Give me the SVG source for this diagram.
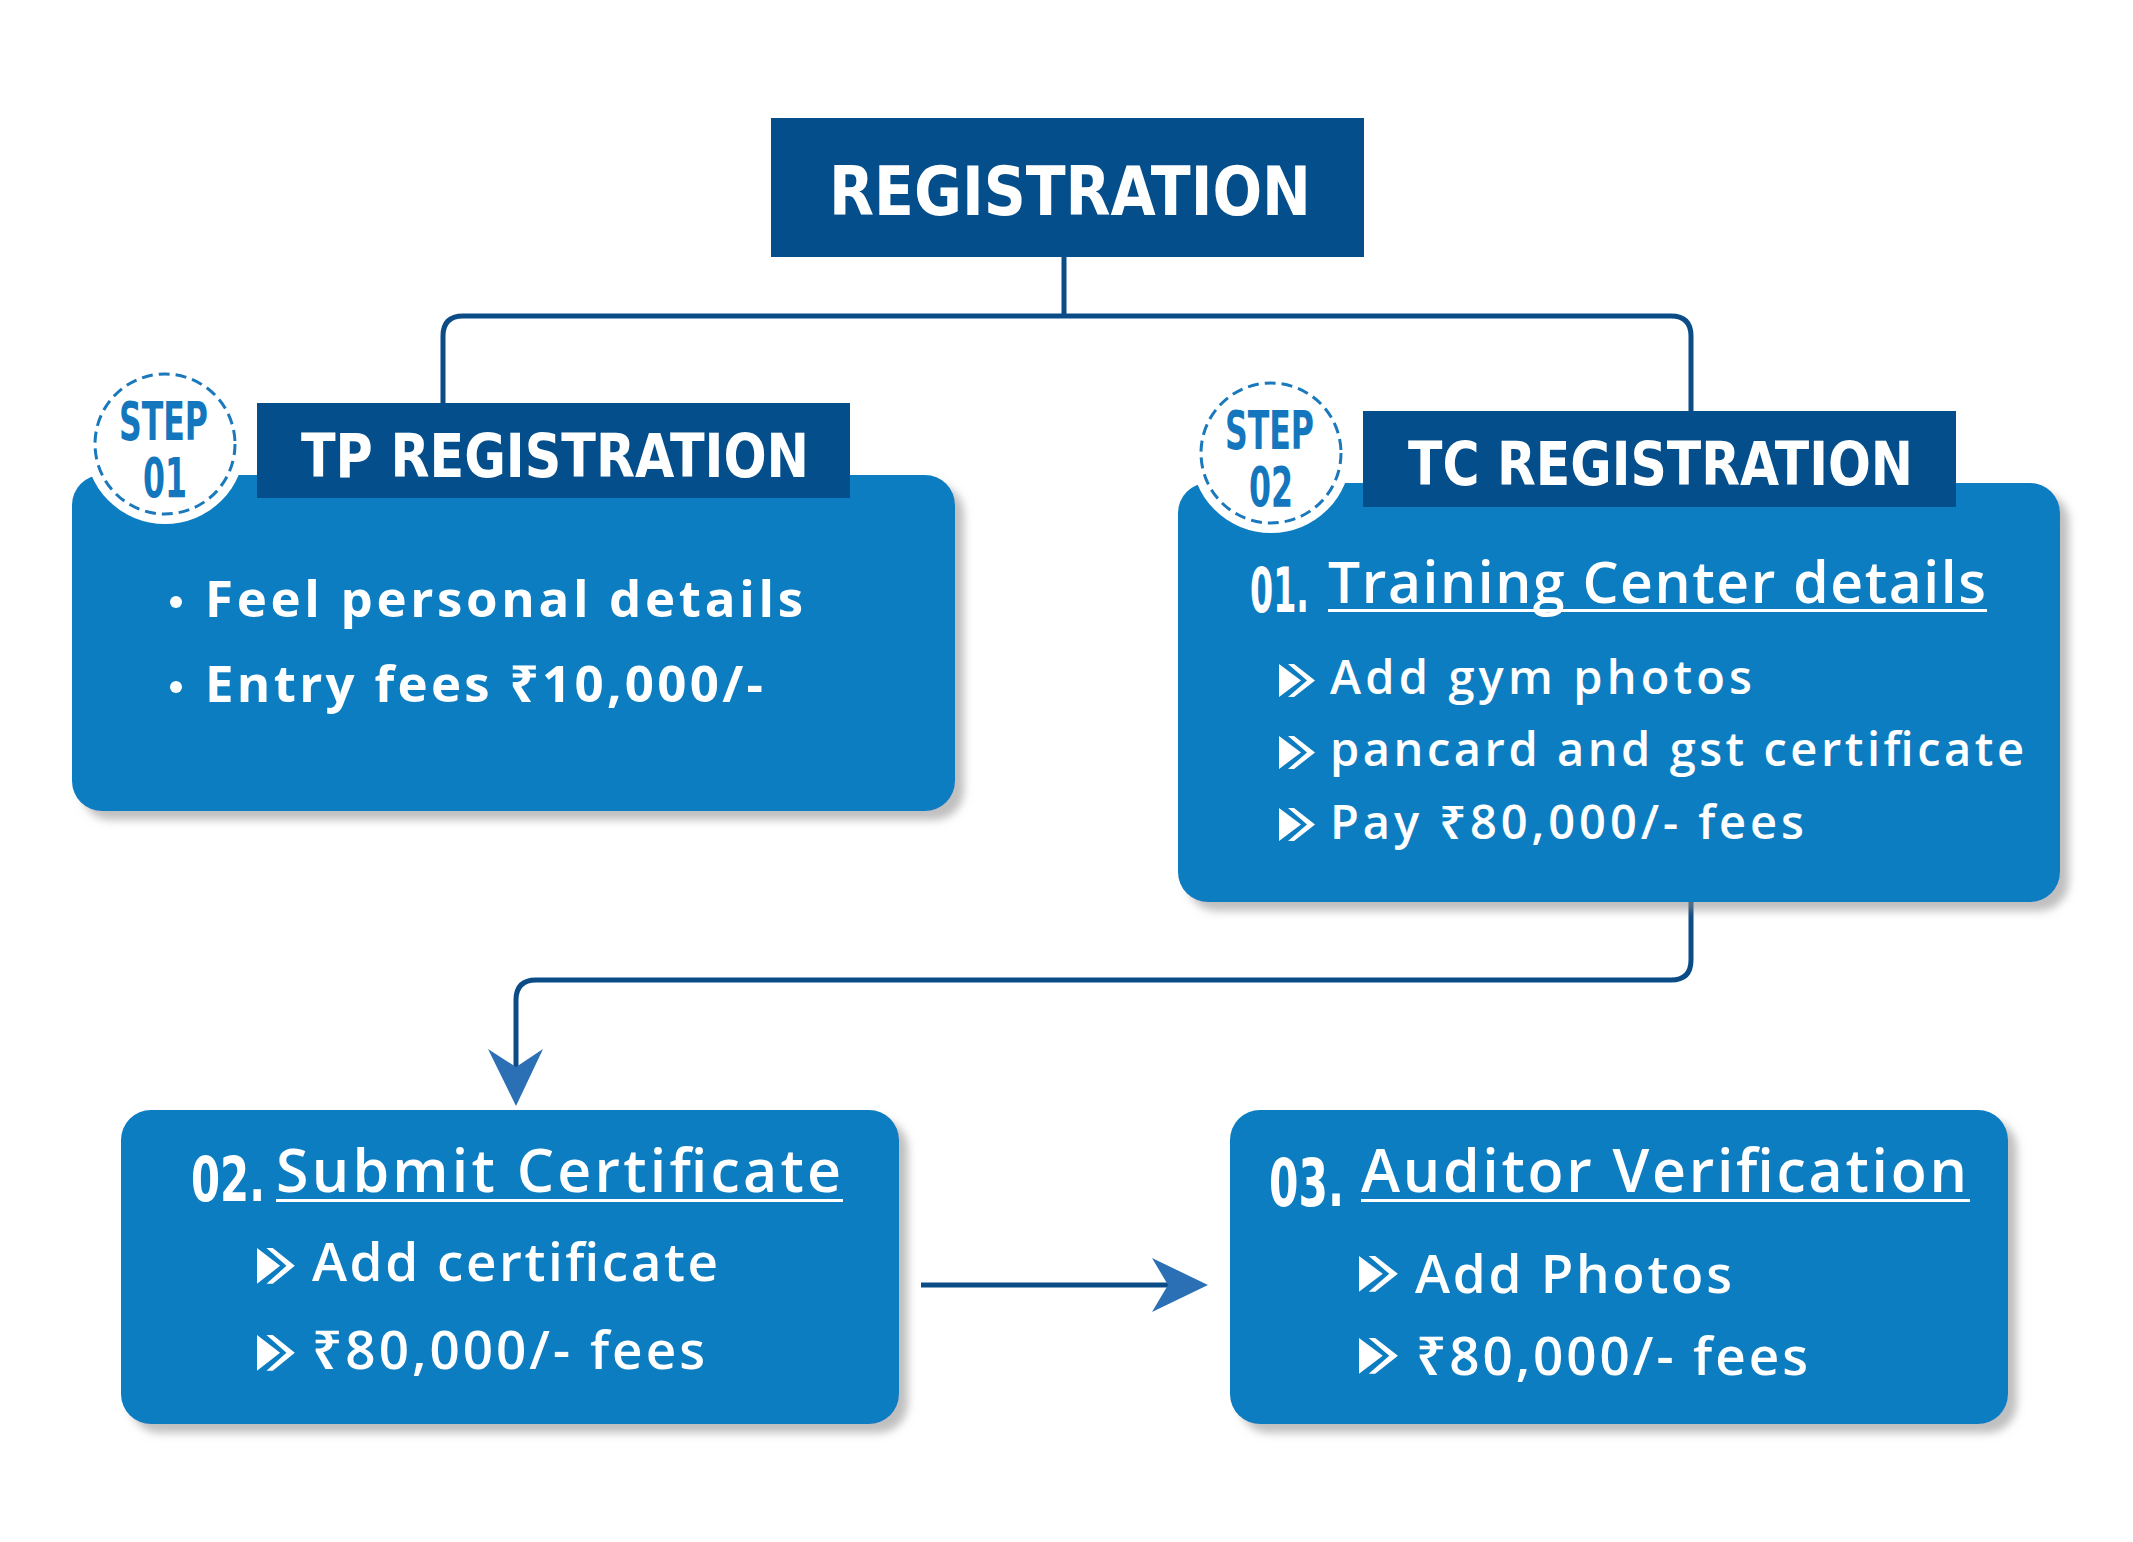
<svg xmlns="http://www.w3.org/2000/svg" xmlns:xlink="http://www.w3.org/1999/xlink" width="2133" height="1542" viewBox="0 0 2133 1542">
<defs>
<filter id="shadow" x="-10%" y="-10%" width="125%" height="130%">
<feDropShadow dx="9" dy="9" stdDeviation="4" flood-color="#8a8a8a" flood-opacity="0.55"/>
</filter>
<g id="chev">
<polygon points="0,0 22,17 0,34"/>
<polygon points="9,0 15,0 36,17 15,34 9,34 28,17"/>
</g>
<style>
.box{fill:#0a7dc2;filter:url(#shadow);}
.hdr{fill:#034e8b;}
.cond{font-family:"DejaVu Sans Condensed","DejaVu Sans",sans-serif;font-stretch:condensed;font-weight:bold;}
.hw{fill:#ffffff;}
.step{fill:#1477be;}
.body{font-family:"Open Sans","Noto Sans","DejaVu Sans",sans-serif;fill:#ffffff;}
.b7{font-weight:700;}
.b6{font-weight:600;}
.ul{fill:#ffffff;}
.conn{fill:none;stroke:#0b4c87;stroke-width:5;}
.head{fill:#2b6fb5;}
.ring{fill:#ffffff;}
.dash{fill:none;stroke:#1a78bd;stroke-width:3;stroke-dasharray:11 6;}
.ico{fill:#ffffff;}
</style>
</defs>
<rect width="2133" height="1542" fill="#ffffff"/>

<g id="connectors">
<path class="conn" d="M1064,257 V316"/>
<path class="conn" d="M443,403 V336 Q443,316 463,316 H1671 Q1691,316 1691,336 V411"/>
<path class="conn" d="M1691,902 V960 Q1691,980 1671,980 H536 Q516,980 516,1000 V1070"/>
<polygon class="head" points="516,1106 543,1049 516,1067 488,1049"/>
<path class="conn" d="M921,1285 H1168"/>
<polygon class="head" points="1208,1285 1152,1258 1168,1285 1152,1312"/>
</g>

<g id="registration">
<rect class="hdr" x="771" y="118" width="593" height="139"/>
<text class="cond hw" x="829" y="215" font-size="68" textLength="482" lengthAdjust="spacingAndGlyphs">REGISTRATION</text>
</g>

<g id="tp-registration">
<rect class="box" x="72" y="475" width="883" height="336" rx="30"/>
<rect class="hdr" x="257" y="403" width="593" height="95"/>
<text class="cond hw" x="301" y="477" font-size="60" textLength="508" lengthAdjust="spacingAndGlyphs">TP REGISTRATION</text>
<circle class="ring" cx="165" cy="444" r="80"/>
<circle class="dash" cx="165" cy="444" r="70"/>
<text class="cond step" x="119" y="440" font-size="54" textLength="89" lengthAdjust="spacingAndGlyphs">STEP</text>
<text class="cond step" x="143" y="497" font-size="56" textLength="44" lengthAdjust="spacingAndGlyphs">01</text>
<circle cx="176" cy="602" r="6" fill="#ffffff"/>
<text class="body b7" x="205" y="617" font-size="51" textLength="598">Feel personal details</text>
<circle cx="176" cy="687" r="6" fill="#ffffff"/>
<text class="body b7" x="205" y="702" font-size="51" textLength="558">Entry fees ₹10,000/-</text>
</g>

<g id="tc-registration">
<rect class="box" x="1178" y="483" width="882" height="419" rx="30"/>
<rect class="hdr" x="1363" y="411" width="593" height="96"/>
<text class="cond hw" x="1408" y="485" font-size="60" textLength="505" lengthAdjust="spacingAndGlyphs">TC REGISTRATION</text>
<circle class="ring" cx="1271" cy="453" r="80"/>
<circle class="dash" cx="1271" cy="453" r="70"/>
<text class="cond step" x="1225" y="449" font-size="54" textLength="89" lengthAdjust="spacingAndGlyphs">STEP</text>
<text class="cond step" x="1249" y="506" font-size="56" textLength="44" lengthAdjust="spacingAndGlyphs">02</text>
<text class="cond hw" x="1250" y="612" font-size="62" textLength="59" lengthAdjust="spacingAndGlyphs">01.</text>
<text class="body b6" x="1328" y="603" font-size="57" textLength="658">Training Center details</text>
<rect class="ul" x="1328" y="609" width="659" height="3"/>
<use xlink:href="#chev" class="ico" transform="translate(1279,664) scale(1,0.97)"/>
<text class="body b6" x="1330" y="694" font-size="47" textLength="422">Add gym photos</text>
<use xlink:href="#chev" class="ico" transform="translate(1279,736) scale(1,0.97)"/>
<text class="body b6" x="1330" y="766" font-size="47" textLength="694">pancard and gst certificate</text>
<use xlink:href="#chev" class="ico" transform="translate(1279,808) scale(1,0.97)"/>
<text class="body b6" x="1330" y="839" font-size="47" textLength="474">Pay ₹80,000/- fees</text>
</g>

<g id="submit-certificate">
<rect class="box" x="121" y="1110" width="778" height="314" rx="30"/>
<text class="cond hw" x="191" y="1201" font-size="63" textLength="74" lengthAdjust="spacingAndGlyphs">02.</text>
<text class="body b6" x="276" y="1192" font-size="59" textLength="565">Submit Certificate</text>
<rect class="ul" x="276" y="1199" width="567" height="3"/>
<use xlink:href="#chev" class="ico" transform="translate(257,1248) scale(1.05,1.05)"/>
<text class="body b6" x="312" y="1281" font-size="53" textLength="406">Add certificate</text>
<use xlink:href="#chev" class="ico" transform="translate(257,1335) scale(1.05,1.05)"/>
<text class="body b6" x="312" y="1369" font-size="53" textLength="393">₹80,000/- fees</text>
</g>

<g id="auditor-verification">
<rect class="box" x="1230" y="1110" width="778" height="314" rx="30"/>
<text class="cond hw" x="1269" y="1206" font-size="65" textLength="75" lengthAdjust="spacingAndGlyphs">03.</text>
<text class="body b6" x="1361" y="1192" font-size="59" textLength="606">Auditor Verification</text>
<rect class="ul" x="1361" y="1199" width="609" height="3"/>
<use xlink:href="#chev" class="ico" transform="translate(1359,1256) scale(1.08,1.05)"/>
<text class="body b6" x="1415" y="1293" font-size="53" textLength="317">Add Photos</text>
<use xlink:href="#chev" class="ico" transform="translate(1359,1338) scale(1.08,1.05)"/>
<text class="body b6" x="1416" y="1375" font-size="53" textLength="392">₹80,000/- fees</text>
</g>
</svg>
